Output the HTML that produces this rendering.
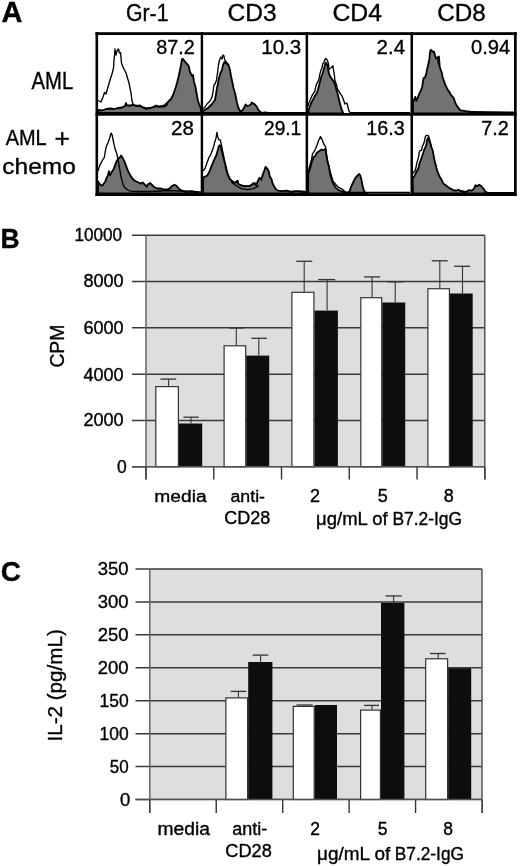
<!DOCTYPE html>
<html><head><meta charset="utf-8"><title>Figure</title>
<style>
html,body{margin:0;padding:0;background:#fff;}
body{width:520px;height:866px;overflow:hidden;}
svg{display:block;}
text{font-family:"Liberation Sans", Arial, sans-serif;fill:#000;stroke:#000;stroke-width:0.35px;}
</style></head>
<body>
<svg width="520" height="866" viewBox="0 0 520 866">
<rect width="520" height="866" fill="#fff"/>
<g stroke="#000" stroke-width="1.8" stroke-linejoin="round">
<polygon fill="#727272" points="98,113 98,110 102,110.5 106,109 110,108.5 114,109 118,108 122,107.5 125,106 126,103 127,105.5 130,105.5 133,105 136,106 140,105.5 143,107.5 146,109 150,108 153,107 156,105.5 159,106.5 162,106 165,105 168,102 171,99 173.5,94 175.5,88 177,83 178.5,77 180,70 181,65 182,59 183,59 184.5,61 186,63 188,65 189,67 190,72 192,76 193,75 194,82 195.5,87 196.5,93 198,101 199.5,105 201,109 201,113"/>
<polygon fill="#727272" points="203,113 203,111 208,108 212,104 215,100 217,88 219,78 220.5,73 222,70 223,65 224.5,62 226,63 228.5,65 230,70 231,76 232.5,83 233.5,88 235,93 236,98 237,103 238.5,108 240,111 242,111 244,108 245.5,104.5 247,106 249,105.5 251,104.5 251.6,102.5 254.4,104.1 256.6,106.3 258.2,109.6 260.4,111.8 262,112.9 265.4,112.3 268.6,112.9 305.5,113"/>
<polygon fill="#727272" points="308.2,113.5 308.9,108.8 310.8,104 312.7,100.2 314.7,96.3 316.6,93.5 318,89.6 319,85.8 319.9,81.9 320.9,78.1 322.3,74.2 323.8,69.4 324.8,65.6 325.7,62.7 326.7,63.7 327.6,65.6 328.6,72.3 329.6,75.2 330.5,77.1 332,79 333.4,81 334.8,83.8 335.8,87.7 337.3,92.5 338.2,96.3 339.2,100.2 340.1,104 341.1,107.9 342.1,110.8 343,112.2 343.5,113.5"/>
<polygon fill="#727272" points="413,113.5 412.9,102.7 414.4,98.8 415.3,96.9 416.3,100.8 417.7,97.9 419.2,94 420.6,91.2 422.1,87.3 423,81.5 423.5,78.2 424.9,77.7 426.4,72.9 427.3,68.1 428.3,64.2 429.3,59.4 429.8,54.6 430.2,50.8 431.2,49.8 432.6,51.7 434.1,51.7 435,55.6 436,58.5 437.4,57.5 438.9,56.5 439.4,62.3 439.8,67.1 440.8,70 441.8,72.9 442.7,77.7 444.2,81.5 445.1,84.4 446.6,87.3 448,90.2 449.5,92.1 450.4,94 451.9,96 453.3,97.4 454.3,99.8 455.2,102.7 456.7,105.6 458.1,107.5 459.6,109.4 461,110.4 464.1,110.8 466.4,111.3 468.7,111.3 471,112 514,112.5 514,113.5"/>
<polygon fill="#727272" points="98,193.3 98,181.5 100.2,184.6 102.2,185.7 105.3,181.5 106.4,178.4 107.9,175.3 109,171.1 110,175.3 111.6,172.2 113.7,169 115.2,164.9 116.8,160.7 118.3,158.7 119.9,157.6 120.9,155.5 122,156.6 123,158.7 124.6,161.8 126.1,165.9 127.2,169 128.7,172.2 130.3,175.3 132.3,178.4 134.4,180.5 136.5,181.5 138.6,182.5 140.7,183.6 142.7,182.5 144.8,184.6 146.9,186.7 148,184.2 150.2,183.1 152.3,185.2 154.5,187.4 157.7,188.5 160.9,188.5 164.2,189.5 167.4,189.5 169.5,188.5 171.7,186.3 174.4,184.7 176.5,185.8 178.7,188.5 180.8,190.1 183.5,191.2 186.8,191.7 191.1,191.2 194.3,191.7 197.5,192.8 201,193.3"/>
<polygon fill="#727272" points="203,193.3 203.2,177.5 205.3,176.5 207.5,175.4 209.6,171.1 211.8,165.7 213.9,160.3 216.1,156 217.7,150.6 218.8,146.3 219.8,145.2 220.9,147.4 222,151.7 223.6,158.2 225.2,164.6 226.8,172.2 227.9,174.3 229.5,178.6 231.7,180.8 234.4,182.9 237.6,180.8 238.2,184 240.8,185.1 244.1,186.2 247.3,186.2 250.5,185.6 252.7,184 253.1,183.1 254.7,184.2 256.3,185.2 257.9,180.9 259.5,177.7 261.2,179.8 262.8,174.5 264.4,170.2 265.5,166.9 267.1,168.5 268.7,171.2 269.8,176.6 271.4,178.8 272.5,183.1 274.1,186.3 275.7,189 277.8,190.6 282.2,191.2 286.5,190.6 290.8,191.7 295.1,191.2 299.4,191.2 302.6,191.5 305.5,192 305.5,193.3"/>
<polygon fill="#727272" points="308.2,193.3 308.2,174.3 310.3,167.8 311.9,161.4 313.5,157.1 315.2,156 316.8,152.8 318.4,151.7 320,150.6 321.6,149.5 323.3,150.3 324.5,149.5 325.6,148.8 326,152.6 326.8,157.2 327.5,161.1 328.3,164.2 329.1,166.5 329.5,170.3 330.2,174.2 331,177.2 332.4,181.8 334,185.1 336.2,188.3 339.4,190.5 342.6,191.5 345.8,192.6 349.1,192.6 350.2,189.4 351.8,185.1 353.4,181.8 355,178.6 356.6,176.5 357.6,175.5 359.2,173.9 360.3,175.5 361.4,179.8 362.5,185.2 363.5,189.5 365.2,192.8 366.8,193.3"/>
<polygon fill="#727272" points="413,193.3 412.6,178.6 414.6,175.7 416.9,171.1 418.5,168 419.2,164.9 420,161.8 420.8,160.3 421.5,158 422.3,155.7 423.1,153.4 423.8,151.1 424.6,148.8 425.4,147.2 426.2,145.7 426.5,143.4 427.3,139.5 428.1,138 428.8,139.5 429.6,141.1 430.4,143.4 431.5,147.2 432.7,150.3 433.5,154.9 434.2,158.8 435,162.6 435.8,164.9 436.5,168 437.3,171.1 438.5,174.2 440,177.2 441.5,179.5 443.3,183.5 445.5,185.1 447.6,186.7 449.8,188.3 451.9,189.4 454.1,190.5 456.2,190.5 458.4,189.9 460.5,191 463.8,191.5 466.3,191.7 469,190.1 471.7,190.6 473.8,189 475.5,185.2 477.1,186.3 479.2,184.7 481.4,186.3 483.5,188.5 485.2,191.7 487.8,192.8 514,193 514,193.3"/>
<polyline fill="none" stroke-width="1.35" points="98,100.5 101,102 103,97 104.5,92.5 106,94 108,87 110,80 112,74 113.5,68 114,60 114.5,56 115,49 116,55 117,51 118.5,49 119.5,53 120.5,52.5 121.5,63 123,67 124.5,70 126,73 127.5,78 129,83 130,88 131,93 132,101 133,104 136,105.5 139,106 142,107 146,108 150,108 153,107.5 156,106.5 160,107 165,106.5 168,104"/>
<polyline fill="none" stroke-width="1.35" points="203,109 205,107 207,104 210,101 212,97 213,92 214,85 215,84 216.5,80 217.5,73 218.5,65 219.5,60 221,57 222,59 223,55 224,56 224.5,59 225.5,61 227,63 228.5,65"/>
<polyline fill="none" stroke-width="1.35" points="308.4,106 308.4,104 309.8,101.2 311.3,97.3 312.7,94.4 314.7,91.5 315.6,87.7 316.6,83.8 317.5,82.4 319,79 319.9,74.2 320.9,70.4 321.9,68.5 322.8,63.7 323.8,62.7 324.8,59.8 325.7,58.4 326.7,59.3 327.6,60.8 328.6,64.6 329.1,69.4 330,68.5 331.5,67.5 332.9,65.6 333.4,69.4 334.4,75.2 334.8,80 335.8,82.9 336.8,85.8 337.7,89.6 339.2,91.5 340.1,93.5 341.6,95.4 342.5,97.3 344,101.2 344.9,104 346.4,103.1 347.3,104 348.3,108.8 349.3,111.7 350.2,112.6 410,112.6"/>
<polyline fill="none" stroke-width="1.35" points="437.4,57.5 438.4,63.3 439.4,65.2"/>
<polyline fill="none" stroke-width="1.35" points="98,171.1 99.6,165.9 101.2,162.8 102.7,159.7 104.3,157.6 105.3,151.4 106.4,146.2 107.9,143.1 109,140 110,136.8 111.1,133.2 112.1,134.8 113.1,140 114.2,145.2 115.2,149.3 116.8,153.5 117.8,158.7 118.8,163.8 119.9,170.1 120.9,176.3 122.5,182.5 124,186.7 126.1,188.8 129.2,190.8 133.4,191.4 140,191.5 150,191.5 160,191 170,190.5 180,191 201,192"/>
<polyline fill="none" stroke-width="1.35" points="203.2,171.1 205.3,167.8 207.5,161.4 209.1,157.1 210.7,154.9 211.8,151.7 213.4,147.4 214.5,143.1 216.1,137.7 216.9,132.3 217.7,136.6 218.8,139.8 220.2,139.8 221.5,145.2 222.5,150.6 223.6,156 224.7,161.4 226.3,167.8 227.9,174.3 229.5,178.6 231.7,180.8 234.4,182.9 237.6,180.8 238.2,184 240.8,185.1 244.1,186.2 247.3,186.2 250.5,185.6 252.7,184 254.8,182.9 257,184"/>
<polyline fill="none" stroke-width="1.35" points="231,182 232.2,182.7 234.5,184.5 237.4,186.5 242,188.8 247.4,189.6 252.8,188.8 255.8,187.3 258.9,185.8"/>
<polyline fill="none" stroke-width="1.35" points="308.2,172.2 309.8,165.7 311.4,160.3 312.5,153.8 314.1,151.7 315.7,148.5 317.3,144.2 318.9,139.8 320.5,136.6 322.2,139.8 323.8,144.2 325.4,146.3 326.5,154.9 327.5,161.4 328.6,165.7 329.7,170 331.3,175.4 332.9,180.8 334.5,182.9 336.2,185.1 338.3,187.2 340.5,188.3 342.6,189.4 344.8,191.5 346.9,192.6 349.1,191.5 350,192.5 366,192.5 410,192.5"/>
<polyline fill="none" stroke-width="1.35" points="412.8,174 413.1,172.6 415,171.1 416.2,166.5 416.9,162.6 417.7,160.3 418.5,157.2 419.2,152.6 420,150.7 421.5,150.3 422.3,146.5 423.1,144.9 423.8,143.4 424.6,140.3 425.4,136.5 426.5,135.3 428.5,135.7 429.6,139.5 430.4,143.4 431.5,147.2"/>
</g>
<g fill="#000">
<rect x="95.5" y="32.2" width="421.2" height="2.8"/>
<rect x="95.5" y="113" width="421.2" height="2.7"/>
<rect x="95.5" y="193.3" width="421.2" height="2.7"/>
<rect x="95.5" y="32.2" width="2.6" height="163.8"/>
<rect x="200.7" y="32.2" width="2.4" height="163.8"/>
<rect x="305.6" y="32.2" width="2.5" height="163.8"/>
<rect x="410.5" y="32.2" width="2.5" height="163.8"/>
<rect x="514" y="32.2" width="2.7" height="163.8"/>
</g>
<rect x="146" y="235.3" width="338.8" height="231.4" fill="#dedede"/>
<line x1="132" y1="466.7" x2="484.8" y2="466.7" stroke="#3a3a3a" stroke-width="1.5"/>
<line x1="132" y1="420.42" x2="484.8" y2="420.42" stroke="#3a3a3a" stroke-width="1.5"/>
<line x1="132" y1="374.14" x2="484.8" y2="374.14" stroke="#3a3a3a" stroke-width="1.5"/>
<line x1="132" y1="327.86" x2="484.8" y2="327.86" stroke="#3a3a3a" stroke-width="1.5"/>
<line x1="132" y1="281.58" x2="484.8" y2="281.58" stroke="#3a3a3a" stroke-width="1.5"/>
<line x1="132" y1="235.3" x2="484.8" y2="235.3" stroke="#3a3a3a" stroke-width="1.5"/>
<line x1="146" y1="235.3" x2="146" y2="479.5" stroke="#666" stroke-width="1.5"/>
<line x1="484.8" y1="235.3" x2="484.8" y2="466.7" stroke="#555" stroke-width="1.5"/>
<line x1="213.76" y1="466.7" x2="213.76" y2="479.5" stroke="#333" stroke-width="1.4"/>
<line x1="281.52" y1="466.7" x2="281.52" y2="479.5" stroke="#333" stroke-width="1.4"/>
<line x1="349.28" y1="466.7" x2="349.28" y2="479.5" stroke="#333" stroke-width="1.4"/>
<line x1="417.04" y1="466.7" x2="417.04" y2="479.5" stroke="#333" stroke-width="1.4"/>
<line x1="484.8" y1="466.7" x2="484.8" y2="479.5" stroke="#333" stroke-width="1.4"/>
<rect x="146.75" y="467.45" width="338.05" height="12.8" fill="#fff"/>
<rect x="155.8" y="386.6" width="22.6" height="80.1" fill="#fff" stroke="#333" stroke-width="1.2"/>
<rect x="179" y="423.5" width="23.2" height="43.2" fill="#0d0d0d"/>
<rect x="224.1" y="345.8" width="21.6" height="120.9" fill="#fff" stroke="#333" stroke-width="1.2"/>
<rect x="246.3" y="355.6" width="22.9" height="111.1" fill="#0d0d0d"/>
<rect x="291.9" y="292.3" width="22" height="174.4" fill="#fff" stroke="#333" stroke-width="1.2"/>
<rect x="314.5" y="310.6" width="23.4" height="156.1" fill="#0d0d0d"/>
<rect x="360.8" y="297.7" width="20.9" height="169" fill="#fff" stroke="#333" stroke-width="1.2"/>
<rect x="382.3" y="302.5" width="22.9" height="164.2" fill="#0d0d0d"/>
<rect x="427.9" y="288.7" width="21.5" height="178" fill="#fff" stroke="#333" stroke-width="1.2"/>
<rect x="450" y="293.5" width="22.7" height="173.2" fill="#0d0d0d"/>
<line x1="168.6" y1="379.1" x2="168.6" y2="386" stroke="#333" stroke-width="1.1"/>
<line x1="160.5" y1="379.1" x2="176.2" y2="379.1" stroke="#333" stroke-width="1.3"/>
<line x1="191" y1="417.2" x2="191" y2="423.5" stroke="#333" stroke-width="1.1"/>
<line x1="183.4" y1="417.2" x2="198.8" y2="417.2" stroke="#333" stroke-width="1.3"/>
<line x1="236.3" y1="328" x2="236.3" y2="345.2" stroke="#333" stroke-width="1.1"/>
<line x1="229" y1="328" x2="244" y2="328" stroke="#333" stroke-width="1.3"/>
<line x1="258.8" y1="338.3" x2="258.8" y2="355.6" stroke="#333" stroke-width="1.1"/>
<line x1="251.3" y1="338.3" x2="266.9" y2="338.3" stroke="#333" stroke-width="1.3"/>
<line x1="304.2" y1="261.3" x2="304.2" y2="291.7" stroke="#333" stroke-width="1.1"/>
<line x1="296.2" y1="261.3" x2="312.3" y2="261.3" stroke="#333" stroke-width="1.3"/>
<line x1="327.1" y1="279.6" x2="327.1" y2="310.6" stroke="#333" stroke-width="1.1"/>
<line x1="318.2" y1="279.6" x2="335.2" y2="279.6" stroke="#333" stroke-width="1.3"/>
<line x1="372.1" y1="276.9" x2="372.1" y2="297.1" stroke="#333" stroke-width="1.1"/>
<line x1="364" y1="276.9" x2="380.2" y2="276.9" stroke="#333" stroke-width="1.3"/>
<line x1="395.2" y1="281.8" x2="395.2" y2="302.5" stroke="#333" stroke-width="1.1"/>
<line x1="387.3" y1="281.8" x2="403.3" y2="281.8" stroke="#333" stroke-width="1.3"/>
<line x1="439.8" y1="260.8" x2="439.8" y2="288.1" stroke="#333" stroke-width="1.1"/>
<line x1="431.7" y1="260.8" x2="447.7" y2="260.8" stroke="#333" stroke-width="1.3"/>
<line x1="462.5" y1="266.3" x2="462.5" y2="293.5" stroke="#333" stroke-width="1.1"/>
<line x1="454.2" y1="266.3" x2="470.2" y2="266.3" stroke="#333" stroke-width="1.3"/>
<line x1="146" y1="466.7" x2="146" y2="479.5" stroke="#333" stroke-width="1.4"/>
<line x1="213.76" y1="466.7" x2="213.76" y2="479.5" stroke="#333" stroke-width="1.4"/>
<line x1="281.52" y1="466.7" x2="281.52" y2="479.5" stroke="#333" stroke-width="1.4"/>
<line x1="349.28" y1="466.7" x2="349.28" y2="479.5" stroke="#333" stroke-width="1.4"/>
<line x1="417.04" y1="466.7" x2="417.04" y2="479.5" stroke="#333" stroke-width="1.4"/>
<line x1="484.8" y1="466.7" x2="484.8" y2="479.5" stroke="#333" stroke-width="1.4"/>
<line x1="132" y1="466.7" x2="484.8" y2="466.7" stroke="#505050" stroke-width="1.5"/>
<rect x="149.8" y="569" width="332.2" height="230.5" fill="#dedede"/>
<line x1="135.5" y1="799.5" x2="482" y2="799.5" stroke="#3a3a3a" stroke-width="1.5"/>
<line x1="135.5" y1="766.571" x2="482" y2="766.571" stroke="#3a3a3a" stroke-width="1.5"/>
<line x1="135.5" y1="733.643" x2="482" y2="733.643" stroke="#3a3a3a" stroke-width="1.5"/>
<line x1="135.5" y1="700.714" x2="482" y2="700.714" stroke="#3a3a3a" stroke-width="1.5"/>
<line x1="135.5" y1="667.786" x2="482" y2="667.786" stroke="#3a3a3a" stroke-width="1.5"/>
<line x1="135.5" y1="634.857" x2="482" y2="634.857" stroke="#3a3a3a" stroke-width="1.5"/>
<line x1="135.5" y1="601.929" x2="482" y2="601.929" stroke="#3a3a3a" stroke-width="1.5"/>
<line x1="135.5" y1="569" x2="482" y2="569" stroke="#3a3a3a" stroke-width="1.5"/>
<line x1="149.8" y1="569" x2="149.8" y2="813" stroke="#666" stroke-width="1.5"/>
<line x1="482" y1="569" x2="482" y2="799.5" stroke="#555" stroke-width="1.5"/>
<line x1="216.24" y1="799.5" x2="216.24" y2="813" stroke="#333" stroke-width="1.4"/>
<line x1="282.68" y1="799.5" x2="282.68" y2="813" stroke="#333" stroke-width="1.4"/>
<line x1="349.12" y1="799.5" x2="349.12" y2="813" stroke="#333" stroke-width="1.4"/>
<line x1="415.56" y1="799.5" x2="415.56" y2="813" stroke="#333" stroke-width="1.4"/>
<line x1="482" y1="799.5" x2="482" y2="813" stroke="#333" stroke-width="1.4"/>
<rect x="150.55" y="800.25" width="331.45" height="13.5" fill="#fff"/>
<rect x="225.9" y="697.9" width="21.7" height="101.6" fill="#fff" stroke="#333" stroke-width="1.2"/>
<rect x="248.2" y="662" width="24.2" height="137.5" fill="#0d0d0d"/>
<rect x="293.3" y="706.4" width="20.9" height="93.1" fill="#fff" stroke="#333" stroke-width="1.2"/>
<rect x="314.8" y="705" width="22.2" height="94.5" fill="#0d0d0d"/>
<rect x="360.6" y="710.1" width="19.8" height="89.4" fill="#fff" stroke="#333" stroke-width="1.2"/>
<rect x="381" y="602.9" width="23.4" height="196.6" fill="#0d0d0d"/>
<rect x="425.7" y="658.8" width="21.9" height="140.7" fill="#fff" stroke="#333" stroke-width="1.2"/>
<rect x="448.2" y="668.2" width="23" height="131.3" fill="#0d0d0d"/>
<line x1="238.4" y1="691.4" x2="238.4" y2="697.3" stroke="#333" stroke-width="1.1"/>
<line x1="230.6" y1="691.4" x2="246.3" y2="691.4" stroke="#333" stroke-width="1.3"/>
<line x1="260.6" y1="655.1" x2="260.6" y2="662" stroke="#333" stroke-width="1.1"/>
<line x1="252.7" y1="655.1" x2="268.4" y2="655.1" stroke="#333" stroke-width="1.3"/>
<line x1="304.5" y1="705" x2="304.5" y2="705.8" stroke="#333" stroke-width="1.1"/>
<line x1="296.5" y1="705" x2="312.7" y2="705" stroke="#333" stroke-width="1.3"/>
<line x1="372" y1="705.4" x2="372" y2="709.5" stroke="#333" stroke-width="1.1"/>
<line x1="364" y1="705.4" x2="379" y2="705.4" stroke="#333" stroke-width="1.3"/>
<line x1="393.6" y1="595.9" x2="393.6" y2="602.9" stroke="#333" stroke-width="1.1"/>
<line x1="385.5" y1="595.9" x2="401.7" y2="595.9" stroke="#333" stroke-width="1.3"/>
<line x1="438.2" y1="653.5" x2="438.2" y2="658.2" stroke="#333" stroke-width="1.1"/>
<line x1="430" y1="653.5" x2="445.7" y2="653.5" stroke="#333" stroke-width="1.3"/>
<line x1="149.8" y1="799.5" x2="149.8" y2="813" stroke="#333" stroke-width="1.4"/>
<line x1="216.24" y1="799.5" x2="216.24" y2="813" stroke="#333" stroke-width="1.4"/>
<line x1="282.68" y1="799.5" x2="282.68" y2="813" stroke="#333" stroke-width="1.4"/>
<line x1="349.12" y1="799.5" x2="349.12" y2="813" stroke="#333" stroke-width="1.4"/>
<line x1="415.56" y1="799.5" x2="415.56" y2="813" stroke="#333" stroke-width="1.4"/>
<line x1="482" y1="799.5" x2="482" y2="813" stroke="#333" stroke-width="1.4"/>
<line x1="135.5" y1="799.5" x2="482" y2="799.5" stroke="#505050" stroke-width="1.5"/>
<text x="1.6" y="22.2" font-size="29" text-anchor="start" font-weight="bold">A</text>
<text x="0.6" y="247.7" font-size="28" text-anchor="start" font-weight="bold" textLength="19.1" lengthAdjust="spacingAndGlyphs">B</text>
<text x="0.8" y="580.6" font-size="28" text-anchor="start" font-weight="bold">C</text>
<text x="126" y="21" font-size="23.5" text-anchor="start" font-weight="normal" textLength="42.5" lengthAdjust="spacingAndGlyphs">Gr-1</text>
<text x="227.6" y="21.2" font-size="23.5" text-anchor="start" font-weight="normal" textLength="49" lengthAdjust="spacingAndGlyphs">CD3</text>
<text x="332.4" y="21" font-size="23.5" text-anchor="start" font-weight="normal" textLength="49.5" lengthAdjust="spacingAndGlyphs">CD4</text>
<text x="437.2" y="21" font-size="23.5" text-anchor="start" font-weight="normal" textLength="48.5" lengthAdjust="spacingAndGlyphs">CD8</text>
<text x="31.6" y="88.8" font-size="23" text-anchor="start" font-weight="normal" textLength="41.6" lengthAdjust="spacingAndGlyphs">AML</text>
<text x="5.7" y="145.3" font-size="22" text-anchor="start" font-weight="normal" textLength="41" lengthAdjust="spacingAndGlyphs">AML</text>
<text x="54.4" y="147.2" font-size="26" text-anchor="start" font-weight="normal" textLength="15.4" lengthAdjust="spacingAndGlyphs">+</text>
<text x="2.3" y="174.1" font-size="22" text-anchor="start" font-weight="normal" textLength="73.5" lengthAdjust="spacingAndGlyphs">chemo</text>
<text x="194.7" y="53.7" font-size="20.5" text-anchor="end" font-weight="normal" textLength="38.5" lengthAdjust="spacingAndGlyphs">87.2</text>
<text x="301.2" y="53.7" font-size="20.5" text-anchor="end" font-weight="normal">10.3</text>
<text x="405.1" y="53.8" font-size="20.5" text-anchor="end" font-weight="normal">2.4</text>
<text x="510.3" y="53.8" font-size="20.5" text-anchor="end" font-weight="normal" textLength="39.3" lengthAdjust="spacingAndGlyphs">0.94</text>
<text x="193.8" y="135.4" font-size="20.5" text-anchor="end" font-weight="normal">28</text>
<text x="301.2" y="135.4" font-size="20.5" text-anchor="end" font-weight="normal" textLength="37.2" lengthAdjust="spacingAndGlyphs">29.1</text>
<text x="404.6" y="135.4" font-size="20.5" text-anchor="end" font-weight="normal" textLength="38.3" lengthAdjust="spacingAndGlyphs">16.3</text>
<text x="508.9" y="135.4" font-size="20.5" text-anchor="end" font-weight="normal" textLength="27.6" lengthAdjust="spacingAndGlyphs">7.2</text>
<text x="126.8" y="472.9" font-size="17.5" text-anchor="end" font-weight="normal">0</text>
<text x="123.7" y="426.42" font-size="17.5" text-anchor="end" font-weight="normal" textLength="40.3" lengthAdjust="spacingAndGlyphs">2000</text>
<text x="123.7" y="380.64" font-size="17.5" text-anchor="end" font-weight="normal" textLength="40.3" lengthAdjust="spacingAndGlyphs">4000</text>
<text x="123.7" y="333.56" font-size="17.5" text-anchor="end" font-weight="normal" textLength="40.3" lengthAdjust="spacingAndGlyphs">6000</text>
<text x="123.7" y="286.58" font-size="17.5" text-anchor="end" font-weight="normal" textLength="40.3" lengthAdjust="spacingAndGlyphs">8000</text>
<text x="122" y="240.5" font-size="17.5" text-anchor="end" font-weight="normal" textLength="47.6" lengthAdjust="spacingAndGlyphs">10000</text>
<text transform="translate(64.2,367.6) rotate(-90)" font-size="20.5" textLength="43" lengthAdjust="spacingAndGlyphs">CPM</text>
<text x="180.5" y="501.8" font-size="17.3" text-anchor="middle" font-weight="normal" textLength="52.3" lengthAdjust="spacingAndGlyphs">media</text>
<text x="247.75" y="501.9" font-size="17.3" text-anchor="middle" font-weight="normal" textLength="34.5" lengthAdjust="spacingAndGlyphs">anti-</text>
<text x="247.3" y="523.8" font-size="17.5" text-anchor="middle" font-weight="normal" textLength="46" lengthAdjust="spacingAndGlyphs">CD28</text>
<text x="315.1" y="501.9" font-size="18" text-anchor="middle" font-weight="normal">2</text>
<text x="382.7" y="501.9" font-size="18" text-anchor="middle" font-weight="normal">5</text>
<text x="448.7" y="501.9" font-size="18" text-anchor="middle" font-weight="normal">8</text>
<text x="316.1" y="524.5" font-size="17.5" text-anchor="start" font-weight="normal" textLength="71.6" lengthAdjust="spacingAndGlyphs">μg/mL of</text>
<text x="392.4" y="524.5" font-size="17.5" text-anchor="start" font-weight="normal" textLength="69.7" lengthAdjust="spacingAndGlyphs">B7.2-IgG</text>
<text x="130.2" y="806.4" font-size="18.5" text-anchor="end" font-weight="normal">0</text>
<text x="128.6" y="773.471" font-size="18.5" text-anchor="end" font-weight="normal" textLength="18.9" lengthAdjust="spacingAndGlyphs">50</text>
<text x="128.6" y="740.443" font-size="18.5" text-anchor="end" font-weight="normal" textLength="29.1" lengthAdjust="spacingAndGlyphs">100</text>
<text x="128.6" y="707.014" font-size="18.5" text-anchor="end" font-weight="normal" textLength="29.1" lengthAdjust="spacingAndGlyphs">150</text>
<text x="128.6" y="673.586" font-size="18.5" text-anchor="end" font-weight="normal">200</text>
<text x="128.6" y="640.657" font-size="18.5" text-anchor="end" font-weight="normal">250</text>
<text x="128.6" y="607.729" font-size="18.5" text-anchor="end" font-weight="normal">300</text>
<text x="128.6" y="574.8" font-size="18.5" text-anchor="end" font-weight="normal">350</text>
<text transform="translate(62,741.6) rotate(-90)" font-size="20" textLength="112.5" lengthAdjust="spacingAndGlyphs">IL-2 (pg/mL)</text>
<text x="183.7" y="834.9" font-size="17.5" text-anchor="middle" font-weight="normal" textLength="52.5" lengthAdjust="spacingAndGlyphs">media</text>
<text x="249.7" y="834.7" font-size="17.5" text-anchor="middle" font-weight="normal" textLength="35" lengthAdjust="spacingAndGlyphs">anti-</text>
<text x="248.5" y="857.3" font-size="17.8" text-anchor="middle" font-weight="normal" textLength="46.5" lengthAdjust="spacingAndGlyphs">CD28</text>
<text x="315.2" y="835.3" font-size="17.5" text-anchor="middle" font-weight="normal">2</text>
<text x="382.6" y="835.3" font-size="17.5" text-anchor="middle" font-weight="normal">5</text>
<text x="448" y="835.3" font-size="17.5" text-anchor="middle" font-weight="normal">8</text>
<text x="317" y="860" font-size="17.5" text-anchor="start" font-weight="normal" textLength="73.3" lengthAdjust="spacingAndGlyphs">μg/mL of</text>
<text x="394.8" y="860" font-size="17.5" text-anchor="start" font-weight="normal" textLength="69.2" lengthAdjust="spacingAndGlyphs">B7.2-IgG</text>
</svg>
</body></html>
